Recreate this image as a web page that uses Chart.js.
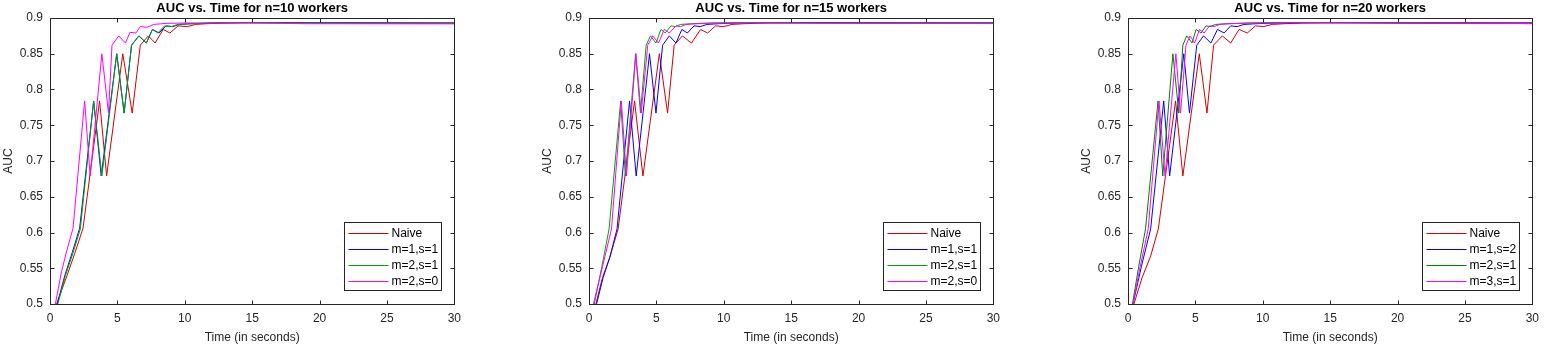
<!DOCTYPE html>
<html>
<head>
<meta charset="utf-8">
<script src="https://cdn.jsdelivr.net/npm/chart.js@4.4.1/dist/chart.umd.min.js"></script>
<style>
    html, body { margin: 0; padding: 0; background: #fff; overflow: hidden; }
    body { width: 1545px; height: 348px; position: relative; }
    canvas { position: absolute; top: 0; }
</style>
</head>
<body>
<canvas id="auc10" width="468" height="348" style="left:0px"></canvas>
<canvas id="auc15" width="468" height="348" style="left:539px"></canvas>
<canvas id="auc20" width="468" height="348" style="left:1078px"></canvas>
<script>
// axis ticks
const xTicks = [0, 5, 10, 15, 20, 25, 30];
const yTicks = [0.5, 0.55, 0.6, 0.65, 0.7, 0.75, 0.8, 0.85, 0.9];

// n = 10 workers
const n10Labels = ['Naive', 'm=1,s=1', 'm=2,s=1', 'm=2,s=0'];
const n10NaiveT = [0.49, 1.23, 1.84, 2.45, 3.68, 4.2, 5.4, 6.1, 6.7, 7.3, 7.8, 8.4, 8.9, 9.5, 10.2, 10.8, 11.6, 13, 15, 22, 28, 30];
const n10NaiveAuc = [0.5, 0.538, 0.571, 0.606, 0.784, 0.679, 0.85, 0.767, 0.862, 0.875, 0.865, 0.884, 0.879, 0.889, 0.888, 0.891, 0.892, 0.893, 0.8935, 0.8932, 0.893, 0.893];
const n10M1S1T = [0.54, 1.1, 1.65, 2.2, 3.24, 3.8, 4.95, 5.5, 6.05, 6.6, 7.15, 7.6, 8.1, 8.6, 9.1, 9.6, 10.5, 12, 15, 22, 28, 30];
const n10M1S1Auc = [0.5, 0.54, 0.572, 0.606, 0.784, 0.679, 0.85, 0.767, 0.862, 0.875, 0.865, 0.884, 0.879, 0.889, 0.888, 0.891, 0.892, 0.893, 0.8935, 0.8933, 0.893, 0.893];
const n10M2S1T = [0.58, 1.15, 1.7, 2.25, 3.24, 3.85, 4.95, 5.5, 6.05, 6.6, 7.15, 7.6, 8.0, 8.5, 9.0, 9.5, 10.4, 12, 14, 20, 28, 30];
const n10M2S1Auc = [0.5, 0.54, 0.571, 0.605, 0.784, 0.679, 0.85, 0.767, 0.862, 0.875, 0.865, 0.884, 0.879, 0.889, 0.888, 0.891, 0.892, 0.893, 0.8935, 0.8932, 0.893, 0.893];
const n10M2S0T = [0.4, 0.85, 1.25, 1.71, 2.57, 2.98, 3.85, 4.34, 4.6, 5.1, 5.6, 5.93, 6.37, 6.7, 7.2, 7.7, 8.6, 10, 14, 19, 30];
const n10M2S0Auc = [0.5, 0.545, 0.575, 0.606, 0.784, 0.679, 0.85, 0.767, 0.862, 0.875, 0.865, 0.88, 0.879, 0.888, 0.887, 0.891, 0.8925, 0.893, 0.8932, 0.892, 0.8918];

// n = 15 workers
const n15Labels = ['Naive', 'm=1,s=1', 'm=2,s=1', 'm=2,s=0'];
const n15NaiveT = [0.51, 1.0, 1.54, 2.16, 3.38, 4.0, 5.22, 5.83, 6.32, 6.93, 7.6, 8.28, 8.8, 9.39, 10.0, 10.6, 11.5, 13, 16, 22, 28, 30];
const n15NaiveAuc = [0.5, 0.537, 0.565, 0.605, 0.784, 0.679, 0.85, 0.767, 0.862, 0.875, 0.865, 0.884, 0.879, 0.889, 0.888, 0.891, 0.892, 0.893, 0.8935, 0.8933, 0.893, 0.893];
const n15M1S1T = [0.56, 1.05, 1.54, 2.08, 3.01, 3.5, 4.49, 4.97, 5.46, 5.96, 6.45, 6.89, 7.3, 7.8, 8.25, 8.75, 9.6, 11, 14, 20, 28, 30];
const n15M1S1Auc = [0.5, 0.537, 0.565, 0.605, 0.784, 0.679, 0.85, 0.767, 0.862, 0.875, 0.865, 0.884, 0.879, 0.889, 0.888, 0.891, 0.892, 0.893, 0.8935, 0.8932, 0.893, 0.893];
const n15M2S1T = [0.39, 0.95, 1.49, 2.35, 2.7, 3.46, 3.82, 4.24, 4.56, 4.97, 5.34, 5.66, 6.08, 6.4, 6.8, 7.6, 9, 12, 17, 25, 30];
const n15M2S1Auc = [0.5, 0.552, 0.605, 0.784, 0.679, 0.85, 0.767, 0.862, 0.875, 0.865, 0.884, 0.879, 0.889, 0.888, 0.891, 0.892, 0.893, 0.8935, 0.8928, 0.893, 0.893];
const n15M2S0T = [0.33, 1.0, 1.67, 2.4, 2.78, 3.48, 3.87, 4.36, 4.73, 5.15, 5.59, 5.96, 6.45, 6.8, 7.2, 8.0, 9.5, 12, 18, 25, 30];
const n15M2S0Auc = [0.5, 0.552, 0.605, 0.784, 0.679, 0.85, 0.767, 0.862, 0.875, 0.865, 0.884, 0.879, 0.889, 0.888, 0.891, 0.892, 0.893, 0.8932, 0.8928, 0.8925, 0.8922];

// n = 20 workers
const n20Labels = ['Naive', 'm=1,s=2', 'm=2,s=1', 'm=3,s=1'];
const n20NaiveT = [0.44, 1.05, 1.68, 2.25, 3.53, 4.07, 5.29, 5.86, 6.35, 7.0, 7.62, 8.24, 8.85, 9.46, 10.07, 10.7, 11.6, 13, 16, 22, 28, 30];
const n20NaiveAuc = [0.5, 0.537, 0.567, 0.605, 0.784, 0.679, 0.85, 0.767, 0.862, 0.875, 0.865, 0.884, 0.879, 0.889, 0.888, 0.891, 0.892, 0.893, 0.8935, 0.8932, 0.893, 0.893];
const n20M1S2T = [0.37, 1.0, 1.68, 2.65, 3.09, 4.14, 4.56, 5.1, 5.61, 6.15, 6.64, 7.13, 7.62, 8.1, 8.6, 9.5, 11, 14, 20, 28, 30];
const n20M1S2Auc = [0.5, 0.553, 0.605, 0.784, 0.679, 0.85, 0.767, 0.862, 0.875, 0.865, 0.884, 0.879, 0.889, 0.888, 0.891, 0.892, 0.893, 0.8935, 0.8932, 0.893, 0.893];
const n20M2S1T = [0.33, 0.8, 1.3, 2.23, 2.58, 3.33, 3.77, 4.07, 4.36, 4.75, 5.05, 5.42, 5.78, 6.1, 6.5, 7.3, 9, 12, 18, 25, 30];
const n20M2S1Auc = [0.5, 0.553, 0.605, 0.784, 0.679, 0.85, 0.767, 0.862, 0.875, 0.865, 0.884, 0.879, 0.889, 0.888, 0.891, 0.892, 0.893, 0.8935, 0.8932, 0.8922, 0.8922];
const n20M3S1T = [0.37, 0.9, 1.5, 2.3, 2.75, 3.55, 3.9, 4.3, 4.6, 4.95, 5.3, 5.65, 6.05, 6.4, 6.8, 7.6, 9, 12, 18, 28, 30];
const n20M3S1Auc = [0.5, 0.552, 0.605, 0.784, 0.679, 0.85, 0.767, 0.862, 0.875, 0.865, 0.884, 0.879, 0.889, 0.888, 0.891, 0.892, 0.893, 0.8935, 0.8932, 0.8925, 0.892];

const lineColors = ['#d40000', '#0000ff', '#00a000', '#ff00ff'];
const lineColors20 = ['#d40000', '#0000ff', '#008000', '#ff00ff'];

const axisColor = '#262626';
const fontFamily = "'Liberation Sans', Arial, Helvetica, sans-serif";

Chart.defaults.font.family = fontFamily;
Chart.defaults.color = axisColor;

function toPoints(times, aucs) {
    return times.map(function (t, i) {
        return { x: t, y: aucs[i] };
    });
}

// draws the box, inside ticks, title and legend the way matlab does
const matlabFrame = {
    id: 'matlabFrame',
    afterDraw: function (chart, args, opts) {
        const ctx = chart.ctx;
        const a = chart.chartArea;
        const xs = chart.scales.x;
        const ys = chart.scales.y;
        const L = Math.round(a.left) + 0.5;
        const R = Math.round(a.right) + 0.5;
        const T = Math.round(a.top) + 0.5;
        const B = Math.round(a.bottom) + 0.5;

        ctx.save();
        ctx.strokeStyle = axisColor;
        ctx.lineWidth = 1;
        ctx.strokeRect(L, T, R - L, B - T);

        ctx.beginPath();
        xTicks.forEach(function (v) {
            const px = Math.round(xs.getPixelForValue(v)) + 0.5;
            ctx.moveTo(px, B); ctx.lineTo(px, B - 4);
            ctx.moveTo(px, T); ctx.lineTo(px, T + 4);
        });
        yTicks.forEach(function (v) {
            const py = Math.round(ys.getPixelForValue(v)) + 0.5;
            ctx.moveTo(L, py); ctx.lineTo(L + 4, py);
            ctx.moveTo(R, py); ctx.lineTo(R - 4, py);
        });
        ctx.stroke();

        // title
        ctx.fillStyle = '#000';
        ctx.font = 'bold 13px ' + fontFamily;
        ctx.textAlign = 'center';
        ctx.textBaseline = 'middle';
        ctx.fillText(opts.title, (a.left + a.right) / 2, 8);

        // legend box
        const labels = opts.labels;
        const colors = opts.colors;
        const rowH = 16.3;
        const boxW = 97;
        const boxH = 68;
        const bx = Math.round(a.right - 13 - boxW) + 0.5;
        const by = Math.round(a.bottom - 14 - boxH) + 0.5;
        ctx.fillStyle = '#fff';
        ctx.fillRect(bx, by, boxW, boxH);
        ctx.strokeStyle = axisColor;
        ctx.strokeRect(bx, by, boxW, boxH);
        ctx.font = '12px ' + fontFamily;
        ctx.textAlign = 'left';
        ctx.textBaseline = 'middle';
        for (let i = 0; i < labels.length; i++) {
            const ry = Math.round(by + 10 + i * rowH) + 0.5;
            ctx.strokeStyle = colors[i];
            ctx.lineWidth = 1;
            ctx.beginPath();
            ctx.moveTo(bx + 4, ry);
            ctx.lineTo(bx + 44, ry);
            ctx.stroke();
            ctx.fillStyle = '#000';
            ctx.fillText(labels[i], bx + 47, ry + 0.5);
        }
        ctx.restore();
    }
};

function makeConfig(title, labels, series, colors) {
    return {
        type: 'line',
        data: {
            datasets: series.map(function (s, i) {
                return {
                    label: labels[i],
                    data: toPoints(s[0], s[1]),
                    borderColor: colors[i],
                    borderWidth: 1,
                    pointRadius: 0,
                    tension: 0,
                    fill: false,
                    order: series.length - i
                };
            })
        },
        options: {
            responsive: false,
            animation: false,
            devicePixelRatio: 1,
            layout: { padding: { top: 18, right: 10, left: 0, bottom: 0 } },
            plugins: {
                legend: { display: false },
                tooltip: { enabled: false },
                matlabFrame: { title: title, labels: labels, colors: colors }
            },
            scales: {
                x: {
                    type: 'linear',
                    min: 0,
                    max: 30,
                    afterBuildTicks: function (s) {
                        s.ticks = xTicks.map(function (v) { return { value: v }; });
                    },
                    afterFit: function (s) { s.height = 44; },
                    grid: { display: false, drawTicks: false },
                    border: { display: false },
                    ticks: { font: { size: 12 }, color: axisColor, padding: 7, maxRotation: 0 },
                    title: {
                        display: true,
                        text: 'Time (in seconds)',
                        font: { size: 12 },
                        color: axisColor,
                        padding: { top: 0, bottom: 3 }
                    }
                },
                y: {
                    type: 'linear',
                    min: 0.5,
                    max: 0.9,
                    afterBuildTicks: function (s) {
                        s.ticks = yTicks.map(function (v) { return { value: v }; });
                    },
                    afterFit: function (s) { s.width = 50; },
                    grid: { display: false, drawTicks: false },
                    border: { display: false },
                    ticks: {
                        font: { size: 12 },
                        color: axisColor,
                        padding: 7,
                        callback: function (v) { return String(Number(v.toFixed(2))); }
                    },
                    title: {
                        display: true,
                        text: 'AUC',
                        font: { size: 12 },
                        color: axisColor,
                        padding: { top: 1, bottom: 0 }
                    }
                }
            }
        },
        plugins: [matlabFrame]
    };
}

new Chart(document.getElementById('auc10'), makeConfig(
    'AUC vs. Time for n=10 workers', n10Labels,
    [[n10NaiveT, n10NaiveAuc], [n10M1S1T, n10M1S1Auc], [n10M2S1T, n10M2S1Auc], [n10M2S0T, n10M2S0Auc]],
    lineColors));

new Chart(document.getElementById('auc15'), makeConfig(
    'AUC vs. Time for n=15 workers', n15Labels,
    [[n15NaiveT, n15NaiveAuc], [n15M1S1T, n15M1S1Auc], [n15M2S1T, n15M2S1Auc], [n15M2S0T, n15M2S0Auc]],
    lineColors));

new Chart(document.getElementById('auc20'), makeConfig(
    'AUC vs. Time for n=20 workers', n20Labels,
    [[n20NaiveT, n20NaiveAuc], [n20M1S2T, n20M1S2Auc], [n20M2S1T, n20M2S1Auc], [n20M3S1T, n20M3S1Auc]],
    lineColors20));
</script>
</body>
</html>
